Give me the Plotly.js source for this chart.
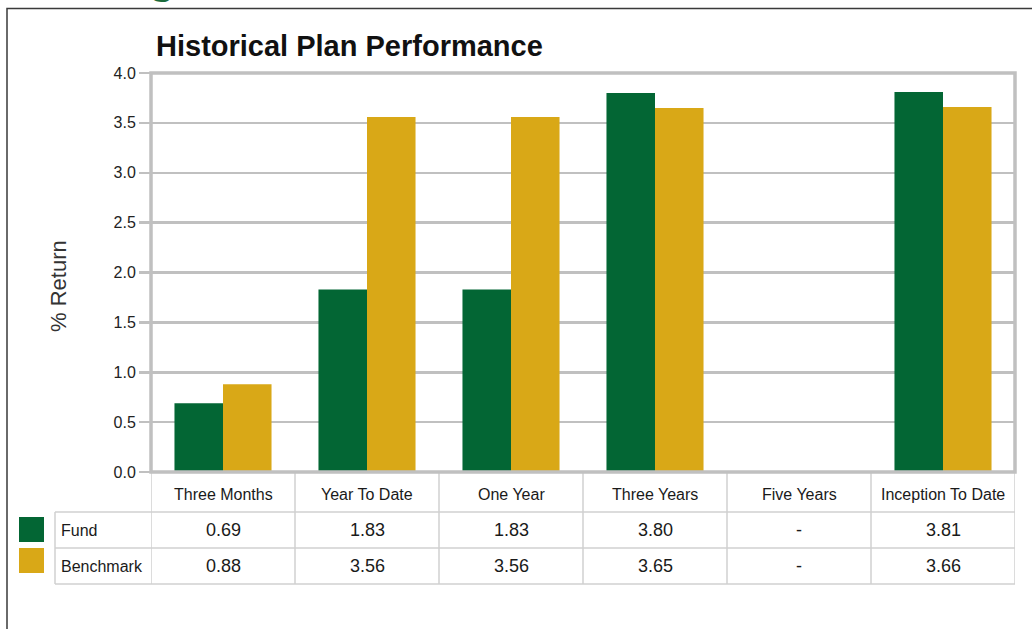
<!DOCTYPE html>
<html>
<head>
<meta charset="utf-8">
<script src="https://cdn.plot.ly/plotly-3.0.1.min.js"></script>
<style>
  html, body { margin: 0; padding: 0; background: #ffffff; }
  #chart { width: 1032px; height: 629px; }
</style>
</head>
<body>
<div id="chart"></div>
<script>
// Return periods shown along the bottom of the chart
const periods = ["Three Months", "Year To Date", "One Year", "Three Years", "Five Years", "Inception To Date"];
// % return per period (null = no data for that period)
const fundReturns = [0.69, 1.83, 1.83, 3.80, null, 3.81];
const benchmarkReturns = [0.88, 3.56, 3.56, 3.65, null, 3.66];
const seriesNames = ["Fund", "Benchmark"];
const yTicks = [0, 0.5, 1, 1.5, 2, 2.5, 3, 3.5, 4];

const FUND_COLOR = "#036634";
const BENCH_COLOR = "#d9a817";
const GRID = "#c0c0c0";
const TABLE_LINE = "#d0d0d0";
const SANS = "Liberation Sans, Arial, sans-serif";

// Plot box in pixels, used to place the table and decorations in paper units
const W = 1032, H = 629;
const BOX = { l: 151, r: 1015, t: 73, b: 472 };
const fx = px => (px - BOX.l) / (BOX.r - BOX.l);
const fy = py => (BOX.b - py) / (BOX.b - BOX.t);

const idx = periods.map((_, i) => i);
const fmt = v => (v === null ? "-" : v.toFixed(2));

const traces = [
  { type: "bar", name: seriesNames[0], x: idx, y: fundReturns,
    marker: { color: FUND_COLOR }, hoverinfo: "skip" },
  { type: "bar", name: seriesNames[1], x: idx, y: benchmarkReturns,
    marker: { color: BENCH_COLOR }, hoverinfo: "skip" }
];

// Data table under the plot
const rowLines = [512, 548, 584];
const headerY = 494, rowY = [530, 566];
const labelColLeft = 55;

const shapes = [];
// horizontal rules of the table
rowLines.forEach(py => shapes.push({
  type: "line", xref: "paper", yref: "paper",
  x0: fx(labelColLeft), x1: 1, y0: fy(py), y1: fy(py),
  line: { color: TABLE_LINE, width: 1.5 }
}));
// column separators at category boundaries
for (let k = 0; k <= periods.length; k++) {
  shapes.push({
    type: "line", xref: "x", yref: "paper",
    x0: k - 0.5, x1: k - 0.5, y0: 0, y1: fy(rowLines[2]),
    line: { color: TABLE_LINE, width: 1.5 }
  });
}
// left edge of the row-label column
shapes.push({
  type: "line", xref: "paper", yref: "paper",
  x0: fx(labelColLeft), x1: fx(labelColLeft), y0: fy(rowLines[0]), y1: fy(rowLines[2]),
  line: { color: TABLE_LINE, width: 1.5 }
});
// colour keys beside the row labels
[[517, 542, FUND_COLOR], [548, 573, BENCH_COLOR]].forEach(([top, bot, c]) => shapes.push({
  type: "rect", xref: "paper", yref: "paper",
  x0: fx(19), x1: fx(44), y0: fy(bot), y1: fy(top),
  fillcolor: c, line: { width: 0 }
}));
// plot frame
shapes.push({
  type: "rect", xref: "paper", yref: "paper", x0: 0, x1: 1, y0: 0, y1: 1,
  line: { color: GRID, width: 3.5 }, layer: "above"
});
// page panel edge
shapes.push({
  type: "path", xref: "paper", yref: "paper",
  path: `M ${fx(7)},${fy(H + 5)} L ${fx(7)},${fy(8.5)} L ${fx(W + 5)},${fy(8.5)}`,
  line: { color: "#3a3a3a", width: 1.5 }
});

const annotations = [];
annotations.push({
  xref: "paper", yref: "paper", x: fx(154), y: fy(46), xanchor: "left", yanchor: "middle",
  text: "<b>Historical Plan Performance</b>", showarrow: false,
  font: { family: SANS, size: 29, color: "#111111" }
});
annotations.push({
  xref: "paper", yref: "paper", x: fx(58), y: fy(286), xanchor: "center", yanchor: "middle",
  text: "% Return", textangle: -90, showarrow: false,
  font: { family: SANS, size: 22, color: "#333333" }
});
// heading fragment above the panel
annotations.push({
  xref: "paper", yref: "paper", x: fx(162), y: fy(4), xanchor: "center", yanchor: "bottom",
  text: "<b>g</b>", showarrow: false,
  font: { family: "Liberation Serif, serif", size: 40, color: "#1b6b3c" }
});
periods.forEach((p, i) => {
  annotations.push({
    xref: "x", yref: "paper", x: i, y: fy(headerY), xanchor: "center", yanchor: "middle",
    text: p, showarrow: false, font: { family: SANS, size: 16, color: "#1a1a1a" }
  });
  [fundReturns, benchmarkReturns].forEach((arr, r) => annotations.push({
    xref: "x", yref: "paper", x: i, y: fy(rowY[r]), xanchor: "center", yanchor: "middle",
    text: fmt(arr[i]), showarrow: false, font: { family: SANS, size: 18, color: "#1a1a1a" }
  }));
});
seriesNames.forEach((n, r) => annotations.push({
  xref: "paper", yref: "paper", x: fx(59), y: fy(rowY[r]), xanchor: "left", yanchor: "middle",
  text: n, showarrow: false, font: { family: SANS, size: 16, color: "#1a1a1a" }
}));

const layout = {
  width: W, height: H,
  margin: { l: BOX.l, r: W - BOX.r, t: BOX.t, b: H - BOX.b, pad: 0 },
  paper_bgcolor: "#ffffff", plot_bgcolor: "#ffffff",
  showlegend: false,
  barmode: "group", bargap: 0.326, bargroupgap: 0,
  xaxis: {
    range: [-0.5, periods.length - 0.5], showticklabels: false, ticks: "",
    showgrid: false, zeroline: false, showline: false, fixedrange: true
  },
  yaxis: {
    range: [0, 4], tickvals: yTicks, ticktext: yTicks.map(v => v.toFixed(1)),
    showgrid: true, gridcolor: GRID, gridwidth: 2.5, zeroline: false,
    showline: false, ticks: "outside", ticklen: 11, tickwidth: 2.5, tickcolor: GRID,
    tickfont: { family: SANS, size: 16, color: "#222222" }, fixedrange: true
  },
  shapes: shapes,
  annotations: annotations
};

Plotly.newPlot("chart", traces, layout, { displayModeBar: false, staticPlot: true });
</script>
</body>
</html>
